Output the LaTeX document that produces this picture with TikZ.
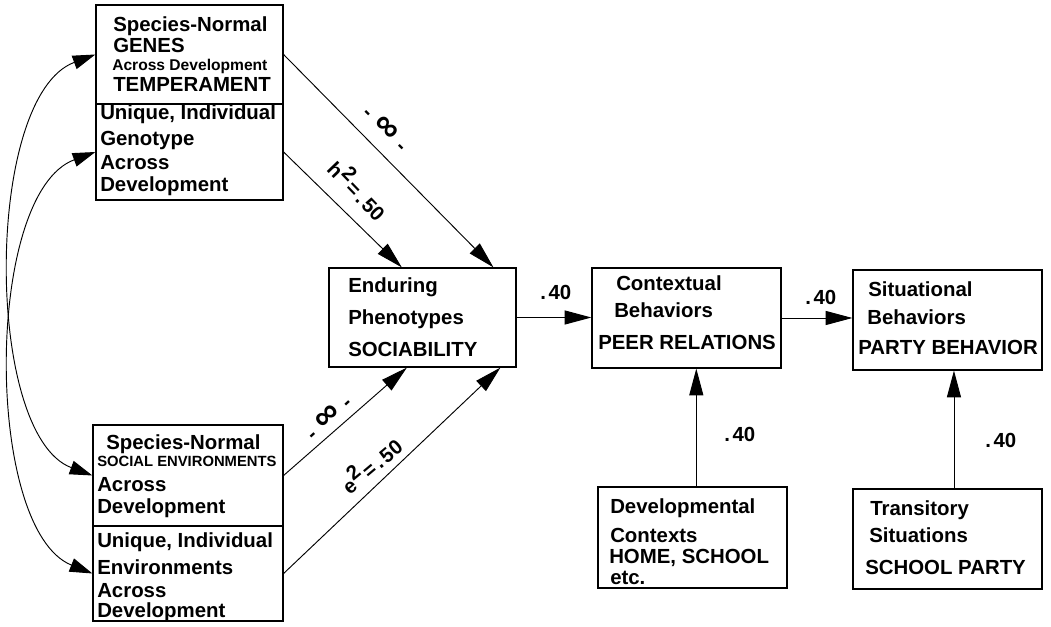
\documentclass[tikz,border=0pt]{standalone}
\usepackage{fontspec}
\setmainfont{Liberation Sans}
\usetikzlibrary{arrows.meta,fit,calc}
\begin{document}
\begin{tikzpicture}[x=0.75pt,y=-0.75pt,
  box/.style={draw,line width=0.9pt,inner sep=0pt,rectangle},
  txt/.style={anchor=base west,inner sep=0pt,font=\bfseries\fontsize{15.3}{18}\selectfont},
  smalltxt/.style={anchor=base west,inner sep=0pt,font=\bfseries\fontsize{11.7}{14}\selectfont},
  tinytxt/.style={anchor=base west,inner sep=0pt,font=\bfseries\fontsize{11.1}{13}\selectfont},
  lbl/.style={inner sep=0pt,font=\bfseries\fontsize{15.3}{18}\selectfont},
  arr/.style={line width=0.7pt,-{Triangle[length=20pt,width=10.5pt]}},
  darr/.style={line width=0.7pt,{Triangle[length=17pt,width=10.5pt]}-{Triangle[length=17pt,width=10.5pt]}}]
\useasboundingbox (0,0) rectangle (1051,627);
\fill[white] (0,0) rectangle (1051,627);

% boxes
\node[box,fit={(96,5)(283,104)}] (genes) {};
\node[box,fit={(96,104)(283,200)}] (genotype) {};
\node[box,fit={(93,425)(283,526)}] (socenv) {};
\node[box,fit={(93,526)(283,621)}] (envs) {};
\node[box,fit={(329,268)(516,367)}] (enduring) {};
\node[box,fit={(592,268)(781,368)}] (contextual) {};
\node[box,fit={(853,270)(1042,370)}] (situational) {};
\node[box,fit={(598,487)(787,588)}] (developmental) {};
\node[box,fit={(853,489)(1042,589)}] (transitory) {};

% texts
\node[txt] (g1) at (113,32) {Species-Normal};
\node[txt] (g2) at (113,53) {GENES};
\node[smalltxt] (g3) at (112,71) {Across Development};
\node[txt] (g4) at (113,92) {TEMPERAMENT};
\node[txt] (u1) at (100,120) {Unique, Individual};
\node[txt] (u2) at (100,146) {Genotype};
\node[txt] (u3) at (100,170) {Across};
\node[txt] (u4) at (100,192) {Development};
\node[txt] (s1) at (106,450) {Species-Normal};
\node[tinytxt] (s2) at (97,467) {SOCIAL ENVIRONMENTS};
\node[txt] (s3) at (97,492) {Across};
\node[txt] (s4) at (97,513) {Development};
\node[txt] (v1) at (97,548) {Unique, Individual};
\node[txt] (v2) at (97,575) {Environments};
\node[txt] (v3) at (97,597) {Across};
\node[txt] (v4) at (97,618) {Development};
\node[txt] (e1) at (348,293) {Enduring};
\node[txt] (e2) at (348,325) {Phenotypes};
\node[txt] (e3) at (348,357) {SOCIABILITY};
\node[txt] (c1) at (616,291) {Contextual};
\node[txt] (c2) at (614,318) {Behaviors};
\node[txt] (c3) at (598,350) {PEER RELATIONS};
\node[txt] (p1) at (868,297) {Situational};
\node[txt] (p2) at (867,325) {Behaviors};
\node[txt] (p3) at (858,355) {PARTY BEHAVIOR};
\node[txt] (d1) at (610,514) {Developmental};
\node[txt] (d2) at (610,542) {Contexts};
\node[txt] (d3) at (609,564) {HOME, SCHOOL};
\node[txt] (d4) at (610,585) {etc.};
\node[txt] (r1) at (870,516) {Transitory};
\node[txt] (r2) at (869,543) {Situations};
\node[txt] (r3) at (865,575) {SCHOOL PARTY};

% weights
\node[txt] (w1) at (540,300) {.\kern2pt40};
\node[txt] (w2) at (805,305) {.\kern2pt40};
\node[txt] (w3) at (724,442) {.\kern2pt40};
\node[txt] (w4) at (985,448) {.\kern2pt40};
\node[lbl,rotate=-45] (inf1) at (386,128) {-\kern6pt\scalebox{1.7}{∞}\kern6pt-};
\node[lbl,rotate=-46] (h2) at (359,189) {h\raisebox{.4em}{2}\kern2pt=\kern2pt.\kern2pt50};
\node[lbl,rotate=43] (inf2) at (328,417) {-\kern6pt\scalebox{1.7}{∞}\kern6pt-};
\node[lbl,rotate=40] (e2l) at (370,464) {e\raisebox{.4em}{2}\kern2pt=\kern2pt.\kern2pt50};

% connectors
\draw[arr] (genes.east) -- ($(enduring.north west)!0.877!(enduring.north east)$);
\draw[arr] (genotype.east) -- ($(enduring.north west)!0.39!(enduring.north east)$);
\draw[arr] (socenv.east) -- ($(enduring.south west)!0.417!(enduring.south east)$);
\draw[arr] (envs.east) -- ($(enduring.south west)!0.914!(enduring.south east)$);
\draw[arr] (enduring.east) -- (enduring.east -| contextual.west);
\draw[arr] (contextual.east) -- (contextual.east -| situational.west);
\coordinate (dtop) at ($(developmental.north west)!0.52!(developmental.north east)$);
\draw[arr] (dtop) -- (dtop |- contextual.south);
\coordinate (ttop) at ($(transitory.north west)!0.534!(transitory.north east)$);
\draw[arr] (ttop) -- (ttop |- situational.south);
\draw[darr] (genes.west) .. controls (-16,96) and (-16,435) .. (socenv.west);
\draw[darr] (genotype.west) .. controls (-16,193) and (-16,530) .. (envs.west);
\end{tikzpicture}
\end{document}
